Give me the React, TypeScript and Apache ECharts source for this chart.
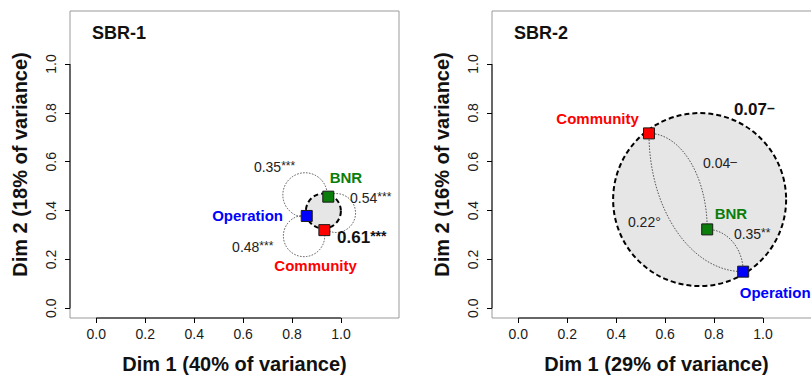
import React, { useEffect, useRef } from "react";
import * as echarts from "echarts";

const FONT = "'Liberation Sans', Arial, Helvetica, sans-serif";

// ---- data ----
const panelTitles = ["SBR-1", "SBR-2"];
const xAxisTitles = ["Dim 1 (40% of variance)", "Dim 1 (29% of variance)"];
const yAxisTitles = ["Dim 2 (18% of variance)", "Dim 2 (16% of variance)"];
const tickValues = [0, 0.2, 0.4, 0.6, 0.8, 1.0];

const nodeNames = ["BNR", "Operation", "Community"];
const nodeColors = ["#0b7d0b", "#0000ff", "#ff0000"];

const sbr1X = [0.948, 0.86, 0.932];
const sbr1Y = [0.457, 0.378, 0.32];
const sbr2X = [0.772, 0.919, 0.534];
const sbr2Y = [0.323, 0.15, 0.716];

// overall (dashed grey) circles: [cx, cy, r]
const sbr1Overall = [0.928, 0.398, 0.0715];
const sbr2Overall = [0.741, 0.445, 0.3535];
const overallValues = ["0.61", "0.07"];
const overallSig = ["***", "\u2013"];

// pairwise links (node indices)
const sbr1Pairs = [[1, 0], [0, 2], [1, 2]];
const sbr1PairValues = ["0.35", "0.54", "0.48"];
const sbr1PairSig = ["***", "***", "***"];
const sbr1LoopCenters = [[0.853, 0.464], [0.98, 0.39], [0.849, 0.296]];

const sbr2Pairs = [[2, 0], [2, 1], [0, 1]];
const sbr2PairValues = ["0.04", "0.22", "0.35"];
const sbr2PairSig = ["\u2013", "\u00b0", "**"];
const sbr2CurveShapes = ["hv", "vh", "hv"];

// ---- label layout (data coordinates) ----
const titlePos = [[-0.018, 1.127], [-0.018, 1.127]];
const nodeLabelPos = [
  [[1.02, 0.537, "center"], [0.763, 0.378, "right"], [0.896, 0.177, "center"]],
  [[0.869, 0.39, "center"], [0.905, 0.063, "left"], [0.324, 0.775, "center"]],
];
const pairLabelPos = [
  [[0.644, 0.578], [1.037, 0.451], [0.555, 0.251]],
  [[0.755, 0.595], [0.448, 0.353], [0.881, 0.304]],
];
const overallLabelPos = [[0.984, 0.288], [0.881, 0.812]];

const XMIN = -0.1075, XMAX = 1.237, YMIN = -0.0397, YMAX = 1.217;
const GRID_LEFT = [70, 492];

const RICH = {
  n: { fontSize: 14, fontFamily: FONT },
  s: { fontSize: 12, fontFamily: FONT, verticalAlign: "top" },
  nb: { fontSize: 17, fontWeight: "bold", fontFamily: FONT },
  sb: { fontSize: 14, fontWeight: "bold", fontFamily: FONT, verticalAlign: "top" },
};

function buildNotes(i: number) {
  const notes: any[] = [];
  notes.push({ x: titlePos[i][0], y: titlePos[i][1], align: "left", text: panelTitles[i], fill: "#111", size: 18, bold: true });
  nodeNames.forEach((nm, j) => {
    const p = nodeLabelPos[i][j];
    notes.push({ x: p[0], y: p[1], align: p[2], text: nm, fill: nodeColors[j], size: 15, bold: true });
  });
  const vals = i === 0 ? sbr1PairValues : sbr2PairValues;
  const sigs = i === 0 ? sbr1PairSig : sbr2PairSig;
  vals.forEach((v, j) => {
    const p = pairLabelPos[i][j];
    const sig = sigs[j];
    const txt = sig === "\u00b0" ? `{n|${v}\u00b0}` : `{n|${v}}{s|${sig}}`;
    notes.push({ x: p[0], y: p[1], align: "left", text: txt, fill: "#222", size: 14, bold: false });
  });
  const op = overallLabelPos[i];
  notes.push({ x: op[0], y: op[1], align: "left", text: `{nb|${overallValues[i]}}{sb|${overallSig[i]}}`, fill: "#111", size: 17, bold: true });
  return notes;
}

function buildOption() {
  const xs = [sbr1X, sbr2X];
  const ys = [sbr1Y, sbr2Y];
  const overall = [sbr1Overall, sbr2Overall];
  const dotted = { stroke: "#333", lineWidth: 0.8, lineDash: [1.6, 1.4], fill: "none" };
  const series: any[] = [];

  [0, 1].forEach((i) => {
    series.push({
      type: "custom", xAxisIndex: i, yAxisIndex: i, clip: false, silent: true, z: 1,
      data: [overall[i]],
      renderItem: (_p: any, api: any) => {
        const c = api.coord([api.value(0), api.value(1)]);
        const r = api.size([api.value(2), 0])[0];
        return { type: "circle", shape: { cx: c[0], cy: c[1], r }, style: { fill: "#e6e6e6", stroke: "#000", lineWidth: 2, lineDash: [5, 3] } };
      },
    });
  });

  // SBR-1 loops
  series.push({
    type: "custom", xAxisIndex: 0, yAxisIndex: 0, clip: false, silent: true, z: 2,
    data: sbr1LoopCenters,
    renderItem: (params: any, api: any) => {
      const [f, t] = sbr1Pairs[params.dataIndex];
      const a = api.coord([sbr1X[f], sbr1Y[f]]);
      const b = api.coord([sbr1X[t], sbr1Y[t]]);
      const c = api.coord([api.value(0), api.value(1)]);
      const r = (Math.hypot(a[0] - c[0], a[1] - c[1]) + Math.hypot(b[0] - c[0], b[1] - c[1])) / 2;
      const a1 = Math.atan2(a[1] - c[1], a[0] - c[0]);
      const a2 = Math.atan2(b[1] - c[1], b[0] - c[0]);
      let sweep = a2 - a1;
      while (sweep < 0) sweep += 2 * Math.PI;
      return { type: "arc", shape: { cx: c[0], cy: c[1], r, startAngle: a1, endAngle: a2, clockwise: sweep > Math.PI }, style: dotted };
    },
  });

  // SBR-2 curves
  series.push({
    type: "custom", xAxisIndex: 1, yAxisIndex: 1, clip: false, silent: true, z: 2,
    data: sbr2Pairs.map((p) => [sbr2X[p[0]], sbr2Y[p[0]]]),
    renderItem: (params: any, api: any) => {
      const [f, t] = sbr2Pairs[params.dataIndex];
      const a = api.coord([sbr2X[f], sbr2Y[f]]);
      const b = api.coord([sbr2X[t], sbr2Y[t]]);
      const k = 0.5523;
      let cp1, cp2;
      if (sbr2CurveShapes[params.dataIndex] === "hv") {
        cp1 = [a[0] + k * (b[0] - a[0]), a[1]];
        cp2 = [b[0], b[1] - k * (b[1] - a[1])];
      } else {
        cp1 = [a[0], a[1] + k * (b[1] - a[1])];
        cp2 = [b[0] - k * (b[0] - a[0]), b[1]];
      }
      return {
        type: "bezierCurve",
        shape: { x1: a[0], y1: a[1], x2: b[0], y2: b[1], cpx1: cp1[0], cpy1: cp1[1], cpx2: cp2[0], cpy2: cp2[1] },
        style: dotted,
      };
    },
  });

  [0, 1].forEach((i) => {
    // black axis segments from first to last tick
    series.push({
      type: "custom", xAxisIndex: i, yAxisIndex: i, clip: false, silent: true, z: 3,
      data: [[0, 0]],
      renderItem: (_p: any, api: any) => {
        const t0 = tickValues[0], t1 = tickValues[tickValues.length - 1];
        const a = api.coord([t0, YMIN]), b = api.coord([t1, YMIN]);
        const c = api.coord([XMIN, t0]), d = api.coord([XMIN, t1]);
        return {
          type: "group",
          children: [
            { type: "line", shape: { x1: a[0], y1: a[1], x2: b[0], y2: b[1] }, style: { stroke: "#000", lineWidth: 1 } },
            { type: "line", shape: { x1: c[0], y1: c[1], x2: d[0], y2: d[1] }, style: { stroke: "#000", lineWidth: 1 } },
          ],
        };
      },
    });
    // points
    series.push({
      type: "scatter", xAxisIndex: i, yAxisIndex: i, symbol: "rect", symbolSize: 11, z: 5, silent: true,
      data: xs[i].map((x, j) => ({ value: [x, ys[i][j]], name: nodeNames[j], itemStyle: { color: nodeColors[j], borderColor: "#1a1a1a", borderWidth: 1, opacity: 1 } })),
    });
    // texts
    const notes = buildNotes(i);
    series.push({
      type: "custom", xAxisIndex: i, yAxisIndex: i, clip: false, silent: true, z: 6,
      data: notes.map((n) => [n.x, n.y]),
      renderItem: (params: any, api: any) => {
        const n = notes[params.dataIndex];
        const p = api.coord([n.x, n.y]);
        return {
          type: "text", x: p[0], y: p[1],
          style: {
            text: n.text, rich: RICH, fill: n.fill, fontSize: n.size, fontWeight: n.bold ? "bold" : "normal",
            fontFamily: FONT, align: n.align, verticalAlign: "middle",
          },
        };
      },
    });
  });

  return {
    animation: false,
    backgroundColor: "#fff",
    grid: GRID_LEFT.map((l) => ({
      left: l, top: 11, width: 329, height: 307, show: true, borderColor: "#9a9a9a", borderWidth: 1,
      backgroundColor: "#fff", containLabel: false, outerBoundsMode: "none",
    })),
    xAxis: [0, 1].map((i) => ({
      type: "value", gridIndex: i, min: XMIN, max: XMAX,
      axisLine: { show: false, onZero: false },
      splitLine: { show: false },
      axisTick: { show: true, customValues: tickValues, length: 5, lineStyle: { color: "#000", width: 1 } },
      axisLabel: { customValues: tickValues, formatter: (v: number) => v.toFixed(1), fontSize: 14, color: "#1a1a1a", fontFamily: FONT, margin: 9 },
      name: xAxisTitles[i], nameLocation: "middle", nameGap: 36,
      nameTextStyle: { fontSize: 20, fontWeight: "bold", color: "#111", fontFamily: FONT },
    })),
    yAxis: [0, 1].map((i) => ({
      type: "value", gridIndex: i, min: YMIN, max: YMAX,
      axisLine: { show: false, onZero: false },
      splitLine: { show: false },
      axisTick: { show: true, customValues: tickValues, length: 5, lineStyle: { color: "#000", width: 1 } },
      axisLabel: { customValues: tickValues, formatter: (v: number) => v.toFixed(1), fontSize: 14, color: "#1a1a1a", fontFamily: FONT, margin: 12, rotate: 90 },
      name: yAxisTitles[i], nameLocation: "middle", nameGap: 40, nameRotate: 90,
      nameTextStyle: { fontSize: 20, fontWeight: "bold", color: "#111", fontFamily: FONT },
    })),
    series,
  };
}

export default function App() {
  const ref = useRef<HTMLDivElement>(null);
  useEffect(() => {
    const chart = echarts.init(ref.current!, null, { renderer: "svg" });
    chart.setOption(buildOption() as any);
    return () => chart.dispose();
  }, []);
  return <div ref={ref} style={{ position: "fixed", left: 0, top: 0, width: 811, height: 375, background: "#fff" }} />;
}
